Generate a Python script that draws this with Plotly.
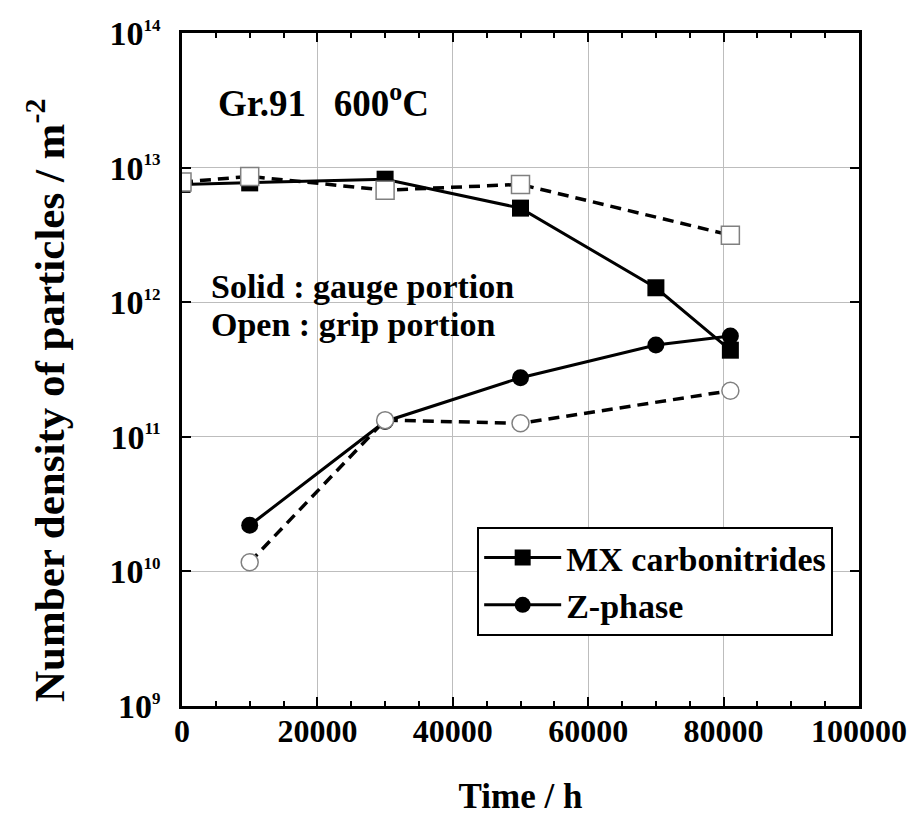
import plotly.graph_objects as go

# Data
time_mx_gauge = [0, 10000, 30000, 50000, 70000, 81000]
mx_gauge = [7.5e12, 7.7e12, 8.2e12, 5.0e12, 1.28e12, 4.4e11]

time_mx_grip = [0, 10000, 30000, 50000, 81000]
mx_grip = [7.8e12, 8.6e12, 6.8e12, 7.5e12, 3.15e12]

time_z_gauge = [10000, 30000, 50000, 70000, 81000]
z_gauge = [2.2e10, 1.3e11, 2.75e11, 4.8e11, 5.6e11]

time_z_grip = [10000, 30000, 50000, 81000]
z_grip = [1.17e10, 1.33e11, 1.26e11, 2.2e11]

x_ticks = [0, 20000, 40000, 60000, 80000, 100000]
y_exponents = [9, 10, 11, 12, 13, 14]

FONT = "Liberation Serif"
fig = go.Figure()

fig.add_trace(go.Scatter(
    x=time_mx_gauge, y=mx_gauge, mode="lines+markers", name="MX carbonitrides",
    line=dict(color="black", width=3),
    marker=dict(symbol="square", size=17, color="black"),
))
fig.add_trace(go.Scatter(
    x=time_z_gauge, y=z_gauge, mode="lines+markers", name="Z-phase",
    line=dict(color="black", width=3),
    marker=dict(symbol="circle", size=17, color="black"),
))
fig.add_trace(go.Scatter(
    x=time_mx_grip, y=mx_grip, mode="lines+markers", showlegend=False,
    line=dict(color="black", width=3.5, dash="11px,7px"),
    marker=dict(symbol="square", size=18, color="white", line=dict(color="#808080", width=1.5)),
))
fig.add_trace(go.Scatter(
    x=time_z_grip, y=z_grip, mode="lines+markers", showlegend=False,
    line=dict(color="black", width=3.5, dash="11px,7px"),
    marker=dict(symbol="circle", size=17, color="white", line=dict(color="#808080", width=1.5)),
))

xtickfont = dict(family=FONT, size=32, color="black", weight="bold")
ytickfont = dict(family=FONT, size=34, color="black", weight="bold")

fig.update_xaxes(
    range=[0, 100000], tickvals=x_ticks, ticktext=[str(v) for v in x_ticks],
    showgrid=True, gridcolor="#bdbdbd", gridwidth=1,
    ticks="inside", ticklen=9, tickwidth=1.5, tickcolor="black",
    minor=dict(dtick=5000, ticks="inside", ticklen=5, tickcolor="black", showgrid=False),
    showline=True, linecolor="black", linewidth=2.5, mirror="allticks",
    zeroline=False, tickfont=xtickfont, automargin=False, ticklabelstandoff=-5,
    title=dict(text="Time / h", font=dict(family=FONT, size=35, color="black", weight="bold"), standoff=36),
)
fig.update_yaxes(
    type="log", range=[9, 14],
    tickvals=[10.0 ** e for e in y_exponents],
    ticktext=["10<sup><span style='font-size:17px'>%d</span></sup>" % e for e in y_exponents],
    showgrid=True, gridcolor="#bdbdbd", gridwidth=1,
    ticks="inside", ticklen=9, tickwidth=1.5, tickcolor="black",
    showline=True, linecolor="black", linewidth=2.5, mirror="allticks",
    zeroline=False, tickfont=ytickfont, automargin=False, ticklabelstandoff=12,
)

annfont = dict(family=FONT, size=34, color="black", weight="bold")
fig.add_annotation(xref="paper", yref="paper", x=-0.202, y=0.455, xanchor="center", yanchor="middle",
                   textangle=-90, showarrow=False,
                   text="Number density of particles / m<sup>-2</sup>",
                   font=dict(family=FONT, size=43, color="black", weight="bold"))
fig.add_annotation(xref="paper", yref="paper", x=0.050, y=0.900, xanchor="left", yanchor="middle",
                   text="Gr.91&nbsp;&nbsp;&nbsp;600<sup>o</sup>C", showarrow=False,
                   font=dict(family=FONT, size=37, color="black", weight="bold"))
fig.add_annotation(xref="paper", yref="paper", x=0.040, y=0.623, xanchor="left", yanchor="middle",
                   text="Solid : gauge portion", showarrow=False, font=annfont)
fig.add_annotation(xref="paper", yref="paper", x=0.040, y=0.567, xanchor="left", yanchor="middle",
                   text="Open : grip portion", showarrow=False, font=annfont)

# The page body has an 8 px margin, so the figure is shrunk by 8 px and margins shifted
fig.update_layout(
    width=907, height=814,
    margin=dict(l=174, r=56, t=25, b=116),
    paper_bgcolor="white", plot_bgcolor="white",
    legend=dict(x=0.436, y=0.266, xanchor="left", yanchor="top",
                bgcolor="white", bordercolor="black", borderwidth=2,
                font=dict(family=FONT, size=34, color="black", weight="bold"),
                itemwidth=77, tracegroupgap=0),
)

fig.write_html("out.html")
